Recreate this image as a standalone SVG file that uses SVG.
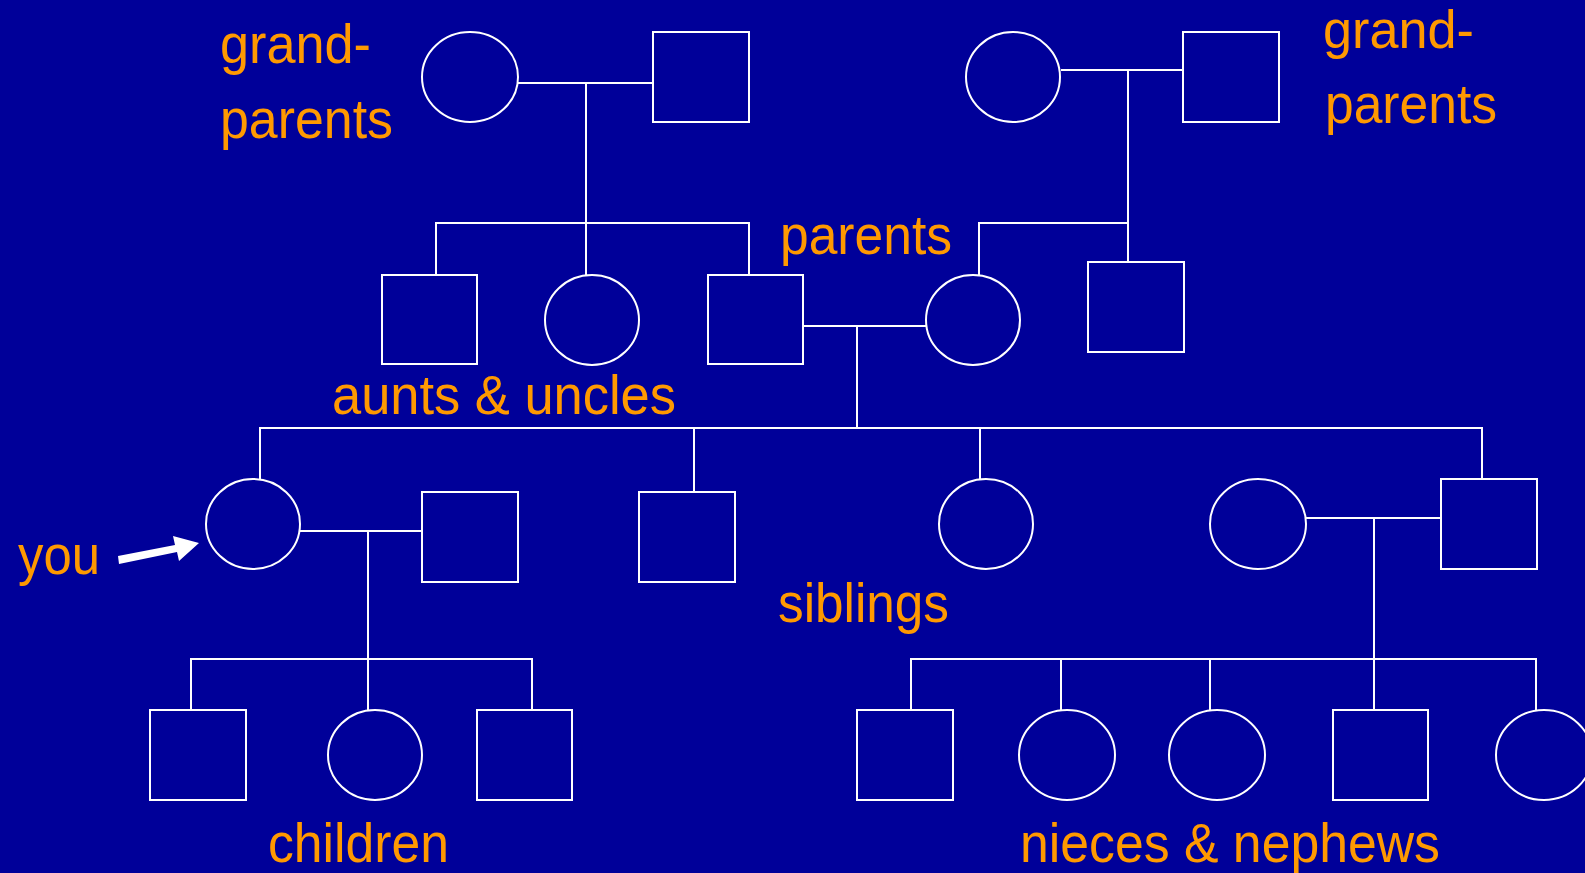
<svg xmlns="http://www.w3.org/2000/svg" width="1585" height="873" viewBox="0 0 1585 873">
<style>
.n{fill:none;stroke:#fff;stroke-width:2}
.c line,.c polyline{stroke:#fff;stroke-width:2;fill:none}
.t{fill:#FF9900;font-family:"Liberation Sans",Arial,sans-serif;font-size:56px}
</style>
<rect width="1585" height="873" fill="#000099"/>
<g class="c" id="connectors">
<line x1="518" y1="83" x2="653" y2="83"/>
<line x1="586" y1="83" x2="586" y2="275"/>
<polyline points="436,275 436,223 749,223 749,275"/>
<line x1="1061" y1="70" x2="1183" y2="70"/>
<line x1="1128" y1="70" x2="1128" y2="262"/>
<polyline points="979,275 979,223 1128,223"/>
<line x1="803" y1="326" x2="926" y2="326"/>
<line x1="857" y1="326" x2="857" y2="428"/>
<polyline points="260,479 260,428 1482,428 1482,479"/>
<line x1="694" y1="428" x2="694" y2="492"/>
<line x1="980" y1="428" x2="980" y2="479"/>
<line x1="300" y1="531" x2="422" y2="531"/>
<line x1="368" y1="531" x2="368" y2="710"/>
<polyline points="191,710 191,659 532,659 532,710"/>
<line x1="1306" y1="518" x2="1441" y2="518"/>
<line x1="1374" y1="518" x2="1374" y2="710"/>
<polyline points="911,710 911,659 1536,659 1536,710"/>
<line x1="1061" y1="659" x2="1061" y2="710"/>
<line x1="1210" y1="659" x2="1210" y2="710"/>
</g>
<g id="gp1f"><ellipse class="n" cx="470" cy="77" rx="48" ry="45"/></g>
<g id="gp1m"><rect class="n" x="653" y="32" width="96" height="90"/></g>
<g id="gp2f"><ellipse class="n" cx="1013" cy="77" rx="47" ry="45"/></g>
<g id="gp2m"><rect class="n" x="1183" y="32" width="96" height="90"/></g>
<g id="uncle1"><rect class="n" x="382" y="275" width="95" height="89"/></g>
<g id="aunt1"><ellipse class="n" cx="592" cy="320" rx="47" ry="45"/></g>
<g id="father"><rect class="n" x="708" y="275" width="95" height="89"/></g>
<g id="mother"><ellipse class="n" cx="973" cy="320" rx="47" ry="45"/></g>
<g id="uncle2"><rect class="n" x="1088" y="262" width="96" height="90"/></g>
<g id="you"><ellipse class="n" cx="253" cy="524" rx="47" ry="45"/></g>
<g id="spouse"><rect class="n" x="422" y="492" width="96" height="90"/></g>
<g id="brother"><rect class="n" x="639" y="492" width="96" height="90"/></g>
<g id="sister1"><ellipse class="n" cx="986" cy="524" rx="47" ry="45"/></g>
<g id="sister2"><ellipse class="n" cx="1258" cy="524" rx="48" ry="45"/></g>
<g id="brotherinlaw"><rect class="n" x="1441" y="479" width="96" height="90"/></g>
<g id="child1"><rect class="n" x="150" y="710" width="96" height="90"/></g>
<g id="child2"><ellipse class="n" cx="375" cy="755" rx="47" ry="45"/></g>
<g id="child3"><rect class="n" x="477" y="710" width="95" height="90"/></g>
<g id="niece1"><rect class="n" x="857" y="710" width="96" height="90"/></g>
<g id="niece2"><ellipse class="n" cx="1067" cy="755" rx="48" ry="45"/></g>
<g id="niece3"><ellipse class="n" cx="1217" cy="755" rx="48" ry="45"/></g>
<g id="niece4"><rect class="n" x="1333" y="710" width="95" height="90"/></g>
<g id="niece5"><ellipse class="n" cx="1544" cy="755" rx="48" ry="45"/></g>
<g id="arrow"><polygon fill="#fff" points="118,556 175,545 173,536 199,543 179,561 177,552 119,564"/></g>
<g id="labels">
<text class="t" x="220" y="63" textLength="151" lengthAdjust="spacingAndGlyphs">grand-</text>
<text class="t" x="220" y="138" textLength="173" lengthAdjust="spacingAndGlyphs">parents</text>
<text class="t" x="1323" y="48" style="font-size:53px" textLength="151" lengthAdjust="spacingAndGlyphs">grand-</text>
<text class="t" x="1325" y="123" textLength="172" lengthAdjust="spacingAndGlyphs">parents</text>
<text class="t" x="780" y="254" textLength="172" lengthAdjust="spacingAndGlyphs">parents</text>
<text class="t" x="332" y="414" textLength="344" lengthAdjust="spacingAndGlyphs">aunts &amp; uncles</text>
<text class="t" x="18" y="574" textLength="82" lengthAdjust="spacingAndGlyphs">you</text>
<text class="t" x="778" y="622" textLength="171" lengthAdjust="spacingAndGlyphs">siblings</text>
<text class="t" x="268" y="862" textLength="181" lengthAdjust="spacingAndGlyphs">children</text>
<text class="t" x="1020" y="862" textLength="420" lengthAdjust="spacingAndGlyphs">nieces &amp; nephews</text>
</g>
</svg>
